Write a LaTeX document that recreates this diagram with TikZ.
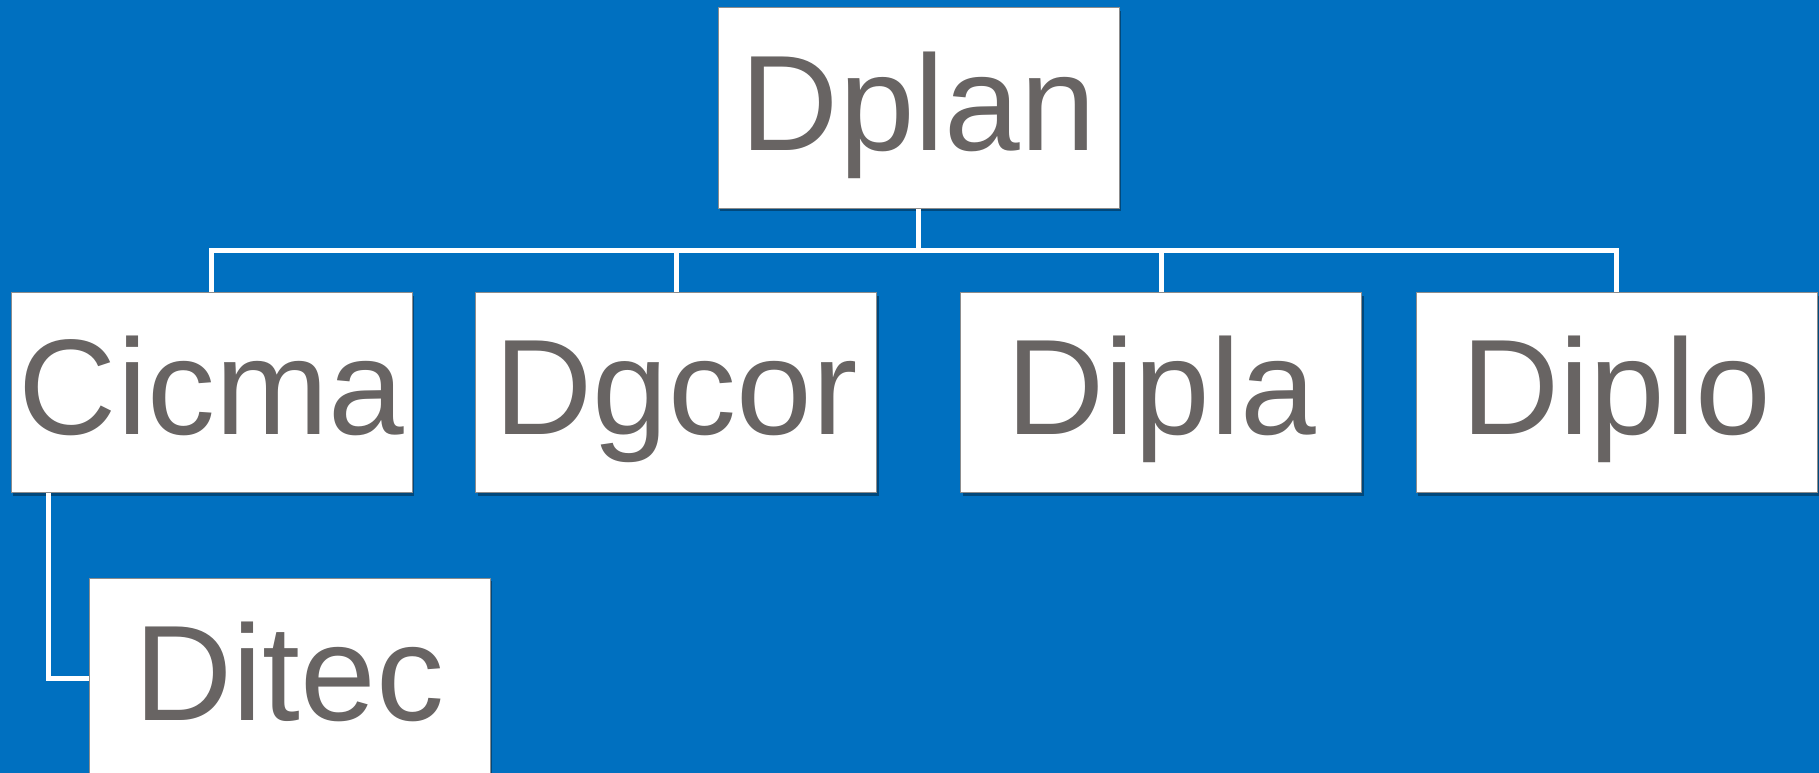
\documentclass[tikz,border=0pt]{standalone}
\usepackage{fontspec}
\setmainfont{Liberation Sans}
\usetikzlibrary{shadows,calc}
\definecolor{bgblue}{RGB}{0,112,192}
\definecolor{txtgray}{RGB}{104,100,99}
\definecolor{boxline}{RGB}{140,140,140}
\tikzset{
  orgbox/.style={draw=boxline, line width=1pt, fill=white, inner sep=0pt,
    minimum width=401pt, minimum height=200pt, text height=142pt, text depth=58pt,
    text=txtgray, font=\fontsize{136}{150}\selectfont,
    drop shadow={shadow xshift=2pt, shadow yshift=-3pt, opacity=0.35, fill=black}},
  link/.style={draw=white, line width=5pt}
}
\begin{document}
\begin{tikzpicture}[x=1pt,y=-1pt]
\fill[bgblue] (0,0) rectangle (1819,773);
\useasboundingbox (0,0) rectangle (1819,773);
\node[orgbox] (dplan) at (918.5,108) {Dplan};
\node[orgbox] (cicma) at (211.5,392.5) {Cicma};
\node[orgbox] (dgcor) at (676,392.5) {Dgcor};
\node[orgbox] (dipla) at (1161,392.5) {Dipla};
\node[orgbox] (diplo) at (1616.5,392.5) {Diplo};
\node[orgbox] (ditec) at (289.5,678) {Ditec};
\coordinate (bus) at (918.5,250);
\draw[link] (dplan.south) -- (bus);
\draw[link] (cicma.north) |- (bus) -| (diplo.north);
\draw[link] (dgcor.north) -- (dgcor.north |- bus);
\draw[link] (dipla.north) -- (dipla.north |- bus);
\draw[link] ($(cicma.south west)+(38,0)$) |- (ditec.west);
\end{tikzpicture}
\end{document}
